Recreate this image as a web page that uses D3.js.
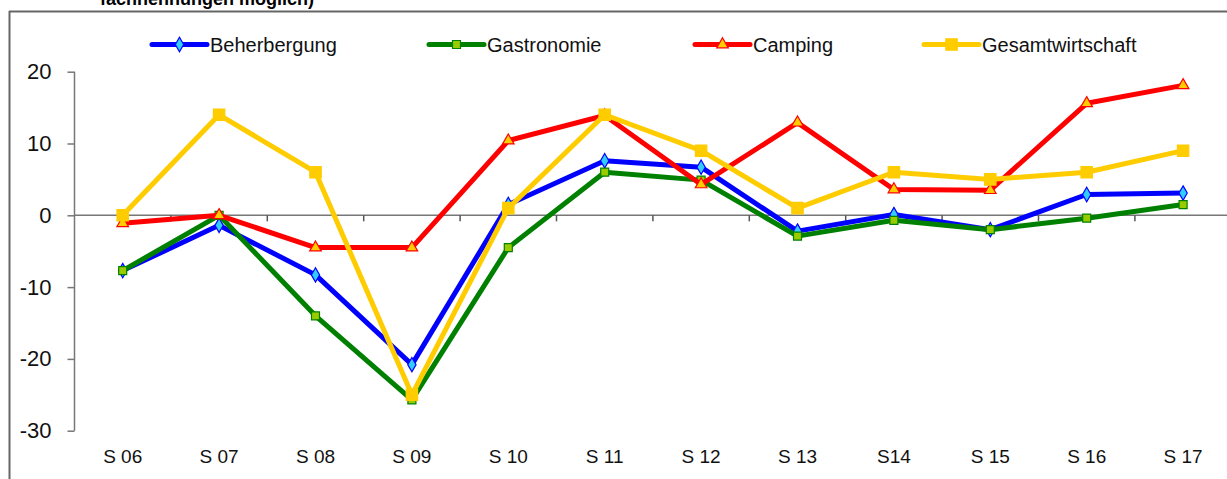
<!DOCTYPE html>
<html><head><meta charset="utf-8">
<script src="https://cdn.jsdelivr.net/npm/d3@7"></script>
<style>html,body{margin:0;padding:0;background:#fff;overflow:hidden}</style>
</head><body>
<svg id="c" width="1227" height="479"></svg>
<script>
const categories = ["S 06","S 07","S 08","S 09","S 10","S 11","S 12","S 13","S14","S 15","S 16","S 17"];
const beherbergung = [-7.7,-1.4,-8.3,-20.8,1.5,7.6,6.7,-2.2,0.1,-2.0,2.9,3.1];
const gastronomie = [-7.7,0,-14,-25.7,-4.5,6.0,4.9,-2.9,-0.7,-2.0,-0.4,1.5];
const camping = [-1.1,0,-4.5,-4.5,10.4,13.9,4.3,12.9,3.6,3.5,15.6,18.1];
const gesamtwirtschaft = [0,14,6,-25,1,14,9,1,6,5,6,9];
const yTicks = [-30,-20,-10,0,10,20];
const seriesNames = ["Beherbergung","Gastronomie","Camping","Gesamtwirtschaft"];
const titleText = "fachnennungen möglich)";

const series = [
  {name:seriesNames[0], values:beherbergung, line:"#0000ff", fill:"#33ccff", stroke:"#0000ff", sym:d3.symbolDiamond, size:60, legX:152},
  {name:seriesNames[1], values:gastronomie, line:"#008000", fill:"#99cc00", stroke:"#008000", sym:d3.symbolSquare, size:64, legX:429},
  {name:seriesNames[2], values:camping, line:"#ff0000", fill:"#ffcc00", stroke:"#ff0000", sym:d3.symbolTriangle, size:58, legX:695},
  {name:seriesNames[3], values:gesamtwirtschaft, line:"#ffcc00", fill:"#ffcc00", stroke:"#ffcc00", sym:d3.symbolSquare, size:130, legX:924}
];

const svg = d3.select("#c");
const font = "'Liberation Sans', Arial, sans-serif";

// frame
svg.append("line").attr("x1",9).attr("x2",1227).attr("y1",11.5).attr("y2",11.5).attr("stroke","#666").attr("stroke-width",2);
svg.append("line").attr("x1",9.5).attr("x2",9.5).attr("y1",11).attr("y2",479).attr("stroke","#666").attr("stroke-width",2);

// clipped title fragment
svg.append("text").attr("x",100).attr("y",5).attr("font-family",font).attr("font-weight","bold")
  .attr("font-size",18).attr("fill","#000").text(titleText);

const x = d3.scaleBand().domain(categories).range([74.5, 74.5 + 96.4*12]).padding(0);
const y = d3.scaleLinear().domain([-30,20]).range([430.7,71.7]);
const cx = c => x(c) + x.bandwidth()/2;

// y axis
const yAxis = svg.append("g").attr("transform","translate(74.5,0)")
  .call(d3.axisLeft(y).tickValues(yTicks).tickSize(7).tickPadding(16).tickFormat(d3.format("d")));
yAxis.select(".domain").attr("stroke","#777").attr("stroke-width",1.5).attr("d","M0,"+y(20)+"V"+y(-30));
yAxis.selectAll(".tick line").attr("stroke","#777").attr("stroke-width",1.5);
yAxis.selectAll(".tick text").attr("font-family",font).attr("font-size",22).attr("fill","#111")
  .text(d => d < 0 ? "-" + Math.abs(d) : d);

// x axis at zero
const y0 = y(0);
const xg = svg.append("g");
xg.append("line").attr("x1",74.5).attr("x2",1227).attr("y1",y0).attr("y2",y0).attr("stroke","#777").attr("stroke-width",1.5);
xg.selectAll("line.tk").data(categories.slice(1)).enter().append("line").attr("class","tk")
  .attr("x1",d=>x(d)).attr("x2",d=>x(d)).attr("y1",y0).attr("y2",y0+6).attr("stroke","#555").attr("stroke-width",1.5);
xg.selectAll("text").data(categories).enter().append("text")
  .attr("x",d=>cx(d)).attr("y",463).attr("text-anchor","middle")
  .attr("font-family",font).attr("font-size",19).attr("fill","#111").text(d=>d);

// series
const line = d3.line().x((d,i)=>cx(categories[i])).y(d=>y(d));
series.forEach(s=>{
  const g = svg.append("g");
  g.append("path").attr("d",line(s.values)).attr("fill","none").attr("stroke",s.line)
    .attr("stroke-width",5).attr("stroke-linejoin","round");
  g.selectAll("path.m").data(s.values).enter().append("path").attr("class","m")
    .attr("d",d3.symbol().type(s.sym).size(s.size))
    .attr("transform",(d,i)=>"translate("+cx(categories[i])+","+y(d)+")")
    .attr("fill",s.fill).attr("stroke",s.stroke).attr("stroke-width",1.2);
});

// legend
const ly = 44.5;
series.forEach(s=>{
  const g = svg.append("g");
  g.append("line").attr("x1",s.legX).attr("x2",s.legX+55).attr("y1",ly).attr("y2",ly)
    .attr("stroke",s.line).attr("stroke-width",5).attr("stroke-linecap","round");
  g.append("path").attr("d",d3.symbol().type(s.sym).size(s.size))
    .attr("transform","translate("+(s.legX+27.5)+","+ly+")")
    .attr("fill",s.fill).attr("stroke",s.stroke).attr("stroke-width",1.2);
  g.append("text").attr("x",s.legX+58).attr("y",51.5).attr("font-family",font).attr("font-size",20)
    .attr("fill","#111").text(s.name);
});
</script>
</body></html>
